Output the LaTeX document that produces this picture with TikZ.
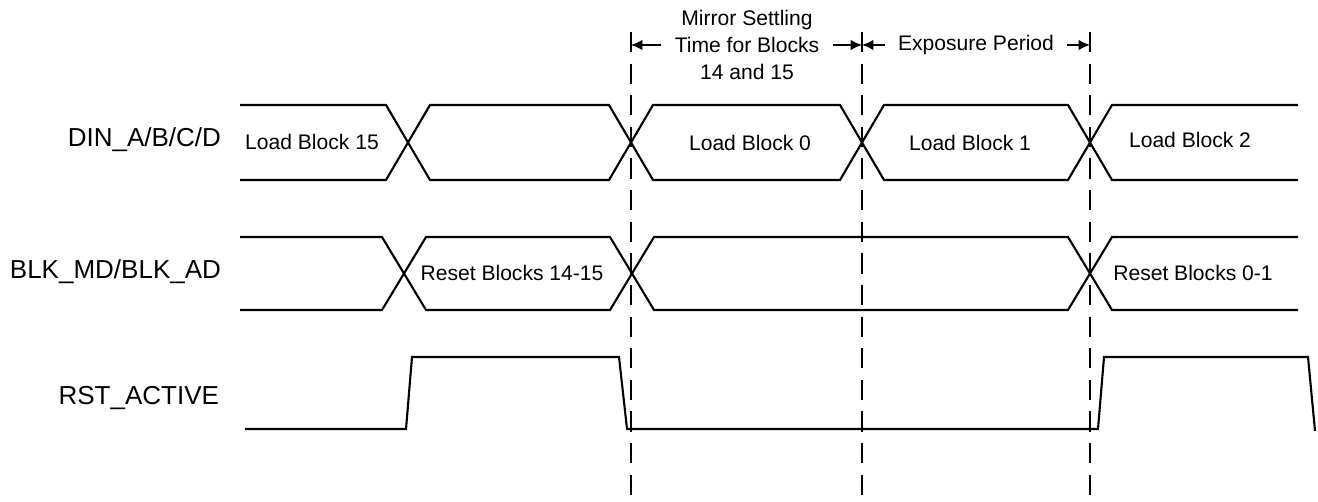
\documentclass[tikz,border=0pt]{standalone}
\usepackage{fontspec}
\setmainfont{Liberation Sans}
\usetikzlibrary{arrows.meta}

\begin{document}
\begin{tikzpicture}[
x=0.02cm, y=-0.02cm,
very thick,
sig/.style={
    anchor=east,
    inner sep=0pt,
    font=\fontsize{14.8}{17}\selectfont
    },
lbl/.style={
    inner sep=0pt,
    font=\fontsize{12}{14}\selectfont
    },
period/.style={
    align=center,
    inner xsep=7pt,
    font=\fontsize{12}{15.4}\selectfont
    },
marker/.style={
    line width=1.4pt,
    dash pattern=on 11.5pt off 6.5pt,
    },
span/.style={
    thick,
    -{Latex[length=6.5pt,width=6pt]},
    },
]
\useasboundingbox (0,0) rectangle (1318,502);

% time markers
\draw[marker] (631,32) -- (631,502);
\draw[marker] (862,32) -- (862,502);
\draw[marker] (1090,32) -- (1090,502);

\coordinate (m1) at (631,45);
\coordinate (m2) at (862,45);
\coordinate (m3) at (1090,45);

\node[period] (settle) at (747,45) {Mirror Settling\\Time for Blocks\\14 and 15};
\node[period] (expo) at (976,45) {Exposure Period};
\draw[span] (settle.west) -- (m1);
\draw[span] (settle.east) -- (m2);
\draw[span] (expo.west) -- (m2);
\draw[span] (expo.east) -- (m3);

% signal names
\node[sig] (din) at (222,140) {DIN\_A/B/C/D};
\node[sig] (blk) at (222,272) {BLK\_MD/BLK\_AD};
\node[sig] (rst) at (220,398) {RST\_ACTIVE};

% data bus
\begin{scope}
    \draw (240,105) -- (386,105) -- (430,180) -- (609,180) -- (653,105) -- (840,105)
        -- (884,180) -- (1068,180) -- (1112,105) -- (1298,105);
    \draw (240,180) -- (386,180) -- (430,105) -- (609,105) -- (653,180) -- (840,180)
        -- (884,105) -- (1068,105) -- (1112,180) -- (1298,180);
    \node[lbl] (ld15) at (312,142) {Load Block 15};
    \node[lbl] (ld0) at (750,143) {Load Block 0};
    \node[lbl] (ld1) at (970,143) {Load Block 1};
    \node[lbl] (ld2) at (1190,140) {Load Block 2};
\end{scope}

% block mode / address
\begin{scope}
    \draw (240,237) -- (382,237) -- (426,310) -- (610,310) -- (654,237) -- (1068,237)
        -- (1112,310) -- (1298,310);
    \draw (240,310) -- (382,310) -- (426,237) -- (610,237) -- (654,310) -- (1068,310)
        -- (1112,237) -- (1298,237);
    \node[lbl] (rb1415) at (512,273) {Reset Blocks 14-15};
    \node[lbl] (rb01) at (1193,273) {Reset Blocks 0-1};
\end{scope}

% reset active
\draw (245,429) -- (406,429) -- (412,357) -- (619,357) -- (627,429) -- (1098,429)
    -- (1104,357) -- (1308,357) -- (1315,431);
\end{tikzpicture}
\end{document}
